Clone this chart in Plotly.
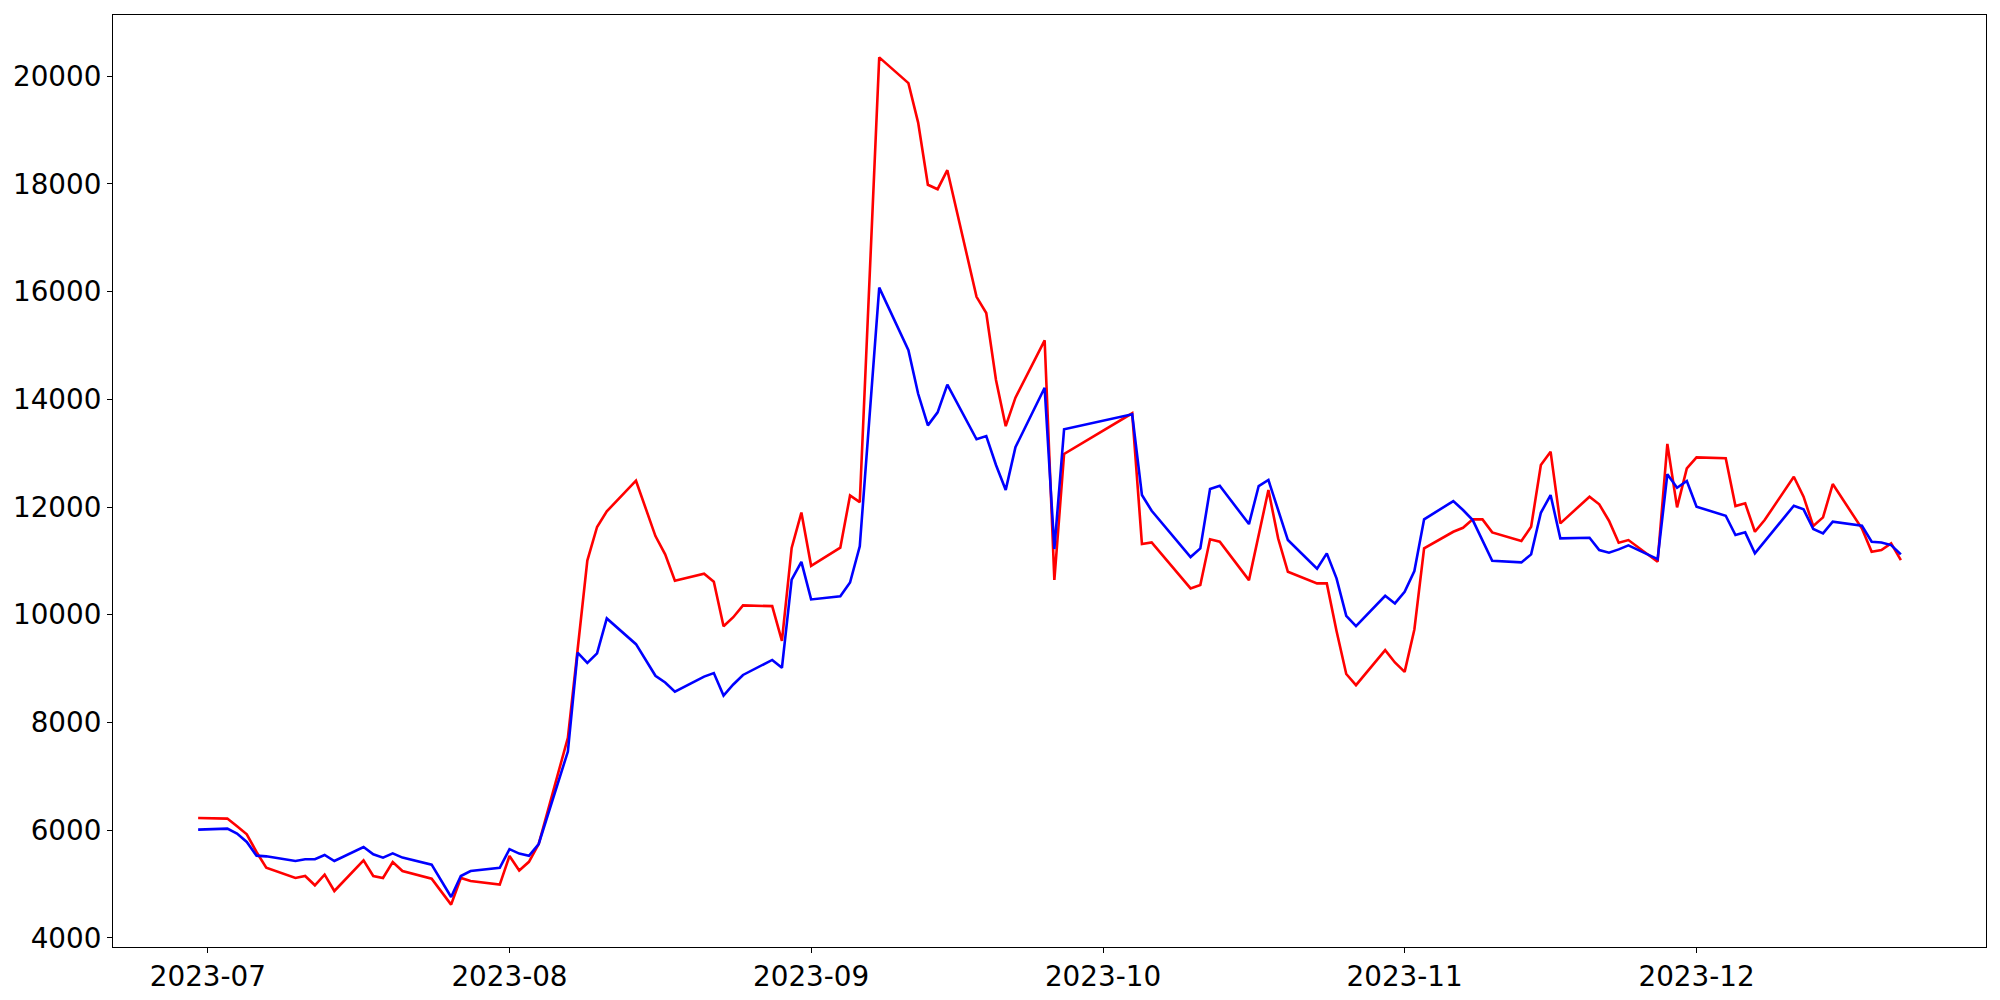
import pandas as pd
import plotly.graph_objects as go

# Trading days (Korean exchange calendar, 2023-06-30 .. 2023-12-22)
start_date = "2023-06-30"
end_date = "2023-12-22"
market_holidays = ["2023-08-15", "2023-09-28", "2023-09-29", "2023-10-02", "2023-10-03", "2023-10-09"]
dates = [d for d in pd.bdate_range(start_date, end_date) if d.strftime("%Y-%m-%d") not in market_holidays]

# Red series values
red_jun = [6226]
red_jul = [6215, 6072, 5923, 5595, 5304, 5112, 5149, 4976, 5174, 4870, 5440, 5149, 5112, 5409, 5241, 5100, 4864, 4617, 5112, 5056, 4990]
red_aug = [5520, 5250, 5412, 5743, 7715, 9350, 11005, 11630, 11920, 12489, 11461, 11123, 10630, 10762, 10615, 9785, 9954, 10173, 10160, 9514, 11240, 11897]
red_sep = [10908, 11245, 12215, 12090, 16260, 20350, 19872, 19138, 17984, 17902, 18255, 15904, 15603, 14360, 13502, 14031, 15096, 10647, 12986]
red_oct = [13741, 11313, 11344, 10489, 10551, 11400, 11355, 10643, 11480, 12316, 11418, 10798, 10582, 10582, 9700, 8900, 8692, 9343, 9114]
red_nov = [8939, 9727, 11232, 11541, 11615, 11771, 11771, 11529, 11368, 11634, 12780, 13028, 11697, 12192, 12050, 11746, 11337, 11387, 10985, 13171, 11994, 12719]
red_dec = [12923, 12905, 12019, 12069, 11541, 11758, 12563, 12192, 11647, 11808, 12427, 11600, 11170, 11201, 11325, 11015]

# Blue series values
blue_jun = [6010]
blue_jul = [6029, 5936, 5781, 5527, 5514, 5427, 5459, 5459, 5539, 5427, 5688, 5552, 5490, 5570, 5490, 5360, 5068, 4758, 5149, 5241, 5300]
blue_aug = [5648, 5565, 5524, 5743, 7460, 9295, 9105, 9283, 9932, 9454, 8867, 8741, 8571, 8852, 8917, 8499, 8705, 8882, 9161, 9014, 10651, 10982]
blue_sep = [10284, 10342, 10599, 11270, 13710, 16075, 14912, 14103, 13516, 13758, 14273, 13258, 13318, 12780, 12318, 13111, 14215, 11220, 13445]
blue_oct = [13722, 12223, 11931, 11071, 11232, 12334, 12396, 11684, 12390, 12502, 11945, 11387, 10854, 11140, 10675, 9980, 9789, 10352, 10210]
blue_nov = [10426, 10811, 11771, 12111, 11944, 11758, 11387, 11002, 10972, 11121, 11894, 12223, 11418, 11430, 11201, 11151, 11214, 11288, 11034, 12610, 12359, 12483]
blue_dec = [12006, 11838, 11480, 11530, 11140, 11362, 12025, 11957, 11591, 11511, 11727, 11653, 11356, 11343, 11294, 11121]

red = red_jun + red_jul + red_aug + red_sep + red_oct + red_nov + red_dec
blue = blue_jun + blue_jul + blue_aug + blue_sep + blue_oct + blue_nov + blue_dec
assert len(red) == len(dates) == len(blue)

y_ticks = [4000, 6000, 8000, 10000, 12000, 14000, 16000, 18000, 20000]
x_ticks = ["2023-07-01", "2023-08-01", "2023-09-01", "2023-10-01", "2023-11-01", "2023-12-01"]
x_tick_labels = ["2023-07", "2023-08", "2023-09", "2023-10", "2023-11", "2023-12"]

fig = go.Figure()
fig.add_trace(go.Scatter(x=dates, y=red, mode="lines", line=dict(color="#ff0000", width=2.6), showlegend=False))
fig.add_trace(go.Scatter(x=dates, y=blue, mode="lines", line=dict(color="#0000ff", width=2.6), showlegend=False))

# matplotlib-like 5% margins
all_vals = red + blue
ymin, ymax = min(all_vals), max(all_vals)
ypad = 0.05 * (ymax - ymin)
x0, x1 = dates[0], dates[-1]
xpad = (x1 - x0) * 0.05
xr = [(x0 - xpad).strftime("%Y-%m-%d %H:%M:%S"), (x1 + xpad).strftime("%Y-%m-%d %H:%M:%S")]

font = dict(family="DejaVu Sans", size=27.8, color="black")
# page body has an 8px default margin, so the figure is sized/offset to compensate
fig.update_layout(
    width=1992, height=992,
    margin=dict(l=105, r=14, t=7, b=53, autoexpand=False),
    paper_bgcolor="white", plot_bgcolor="white",
    font=font,
    xaxis=dict(
        type="date", range=xr, tickvals=x_ticks, ticktext=x_tick_labels,
        showgrid=False, zeroline=False, automargin=False,
        showline=True, linecolor="black", linewidth=1, mirror=True,
        ticks="outside", ticklen=5, tickwidth=1, tickcolor="black",
        tickfont=font,
    ),
    yaxis=dict(
        range=[ymin - ypad, ymax + ypad], tickvals=y_ticks,
        ticktext=[str(v) for v in y_ticks],
        showgrid=False, zeroline=False, automargin=False,
        showline=True, linecolor="black", linewidth=1, mirror=True,
        ticks="outside", ticklen=5, tickwidth=1, tickcolor="black",
        tickfont=font,
    ),
)

fig.write_html("out.html")
